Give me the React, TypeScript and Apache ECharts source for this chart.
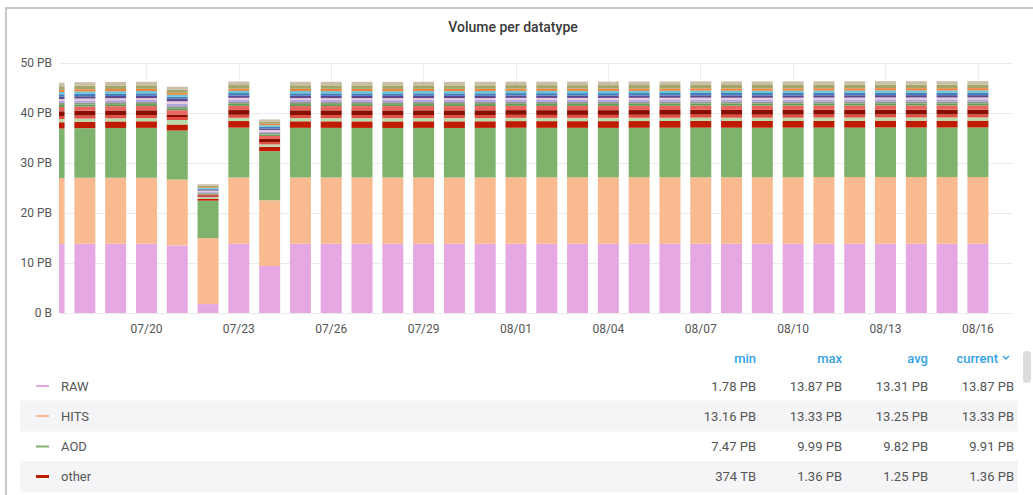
import React, { useEffect, useRef } from 'react';
import * as echarts from 'echarts';

const DATES = [
  '07/17', '07/18', '07/19', '07/20', '07/21', '07/22', '07/23', '07/24', '07/25', '07/26',
  '07/27', '07/28', '07/29', '07/30', '07/31', '08/01', '08/02', '08/03', '08/04', '08/05',
  '08/06', '08/07', '08/08', '08/09', '08/10', '08/11', '08/12', '08/13', '08/14', '08/15', '08/16',
];
const TICK_IDX = [3, 6, 9, 12, 15, 18, 21, 24, 27, 30];
const Y_TICKS = [0, 10, 20, 30, 40, 50];

// values in PB
const RAW = [13.8, 13.87, 13.87, 13.87, 13.5, 1.78, 13.87, 9.4, 13.87, 13.87, 13.87, 13.87, 13.87, 13.87, 13.87, 13.87, 13.87, 13.87, 13.87, 13.87, 13.87, 13.87, 13.87, 13.87, 13.87, 13.87, 13.87, 13.87, 13.87, 13.87, 13.87];
const HITS = [13.18, 13.18, 13.19, 13.19, 13.2, 13.22, 13.21, 13.16, 13.22, 13.23, 13.23, 13.24, 13.24, 13.25, 13.25, 13.26, 13.26, 13.27, 13.27, 13.28, 13.28, 13.29, 13.29, 13.3, 13.3, 13.31, 13.31, 13.32, 13.32, 13.33, 13.33];
const AOD = [9.9, 9.92, 9.95, 9.97, 9.8, 7.47, 9.99, 9.8, 9.95, 9.93, 9.92, 9.9, 9.91, 9.89, 9.9, 9.92, 9.91, 9.9, 9.89, 9.9, 9.91, 9.92, 9.9, 9.89, 9.9, 9.91, 9.9, 9.92, 9.91, 9.9, 9.91];
const OTHER = [1.25, 1.28, 1.3, 1.31, 1.2, 0.374, 1.32, 0.9, 1.3, 1.3, 1.31, 1.31, 1.32, 1.32, 1.32, 1.33, 1.33, 1.33, 1.34, 1.34, 1.34, 1.35, 1.35, 1.35, 1.35, 1.35, 1.36, 1.36, 1.36, 1.36, 1.36];
const T05 = [0.65, 0.65, 0.65, 0.65, 0.9, 0.3, 0.65, 0.45, 0.65, 0.65, 0.65, 0.65, 0.65, 0.65, 0.65, 0.65, 0.65, 0.65, 0.65, 0.65, 0.65, 0.65, 0.65, 0.65, 0.65, 0.65, 0.65, 0.65, 0.65, 0.65, 0.65];
const T06 = [0.6, 0.6, 0.6, 0.6, 0.6, 0.15, 0.6, 0.45, 0.6, 0.6, 0.6, 0.6, 0.6, 0.6, 0.6, 0.6, 0.6, 0.6, 0.6, 0.6, 0.6, 0.6, 0.6, 0.6, 0.6, 0.6, 0.6, 0.6, 0.6, 0.6, 0.6];
const T07 = [0.95, 0.95, 0.95, 0.95, 0.5, 0.25, 0.95, 0.65, 0.95, 0.95, 0.95, 0.95, 0.95, 0.95, 0.95, 0.95, 0.95, 0.95, 0.95, 0.95, 0.95, 0.95, 0.95, 0.95, 0.95, 0.95, 0.95, 0.95, 0.95, 0.95, 0.95];
const T08 = [0.85, 0.85, 0.85, 0.85, 0.85, 0.2, 0.85, 0.6, 0.85, 0.85, 0.85, 0.85, 0.85, 0.85, 0.85, 0.85, 0.85, 0.85, 0.85, 0.85, 0.85, 0.85, 0.85, 0.85, 0.85, 0.85, 0.85, 0.85, 0.85, 0.85, 0.85];
const T09 = [0.4, 0.4, 0.4, 0.4, 0.4, 0.15, 0.4, 0.3, 0.4, 0.4, 0.4, 0.4, 0.4, 0.4, 0.4, 0.4, 0.4, 0.4, 0.4, 0.4, 0.4, 0.4, 0.4, 0.4, 0.4, 0.4, 0.4, 0.4, 0.4, 0.4, 0.4];
const T10 = [0.4, 0.4, 0.4, 0.4, 0.4, 0.15, 0.4, 0.3, 0.4, 0.4, 0.4, 0.4, 0.4, 0.4, 0.4, 0.4, 0.4, 0.4, 0.4, 0.4, 0.4, 0.4, 0.4, 0.4, 0.4, 0.4, 0.4, 0.4, 0.4, 0.4, 0.4];
const T11 = [0.4, 0.4, 0.4, 0.4, 0.5, 0.25, 0.4, 0.3, 0.4, 0.4, 0.4, 0.4, 0.4, 0.4, 0.4, 0.4, 0.4, 0.4, 0.4, 0.4, 0.4, 0.4, 0.4, 0.4, 0.4, 0.4, 0.4, 0.4, 0.4, 0.4, 0.4];
const T12 = [0.4, 0.4, 0.4, 0.4, 0.5, 0.2, 0.4, 0.3, 0.4, 0.4, 0.4, 0.4, 0.4, 0.4, 0.4, 0.4, 0.4, 0.4, 0.4, 0.4, 0.4, 0.4, 0.4, 0.4, 0.4, 0.4, 0.4, 0.4, 0.4, 0.4, 0.4];
const T13 = [0.45, 0.45, 0.45, 0.45, 0.5, 0.2, 0.45, 0.3, 0.45, 0.45, 0.45, 0.45, 0.45, 0.45, 0.45, 0.45, 0.45, 0.45, 0.45, 0.45, 0.45, 0.45, 0.45, 0.45, 0.45, 0.45, 0.45, 0.45, 0.45, 0.45, 0.45];
const T14 = [0.5, 0.5, 0.5, 0.5, 0.4, 0.15, 0.5, 0.35, 0.5, 0.5, 0.5, 0.5, 0.5, 0.5, 0.5, 0.5, 0.5, 0.5, 0.5, 0.5, 0.5, 0.5, 0.5, 0.5, 0.5, 0.5, 0.5, 0.5, 0.5, 0.5, 0.5];
const T15 = [0.45, 0.45, 0.45, 0.45, 0.4, 0.15, 0.45, 0.3, 0.45, 0.45, 0.45, 0.45, 0.45, 0.45, 0.45, 0.45, 0.45, 0.45, 0.45, 0.45, 0.45, 0.45, 0.45, 0.45, 0.45, 0.45, 0.45, 0.45, 0.45, 0.45, 0.45];
const T16 = [0.45, 0.45, 0.45, 0.45, 0.4, 0.15, 0.45, 0.3, 0.45, 0.45, 0.45, 0.45, 0.45, 0.45, 0.45, 0.45, 0.45, 0.45, 0.45, 0.45, 0.45, 0.45, 0.45, 0.45, 0.45, 0.45, 0.45, 0.45, 0.45, 0.45, 0.45];
const T17 = [0.7, 0.7, 0.7, 0.7, 0.6, 0.3, 0.7, 0.4, 0.7, 0.7, 0.7, 0.7, 0.7, 0.7, 0.7, 0.7, 0.7, 0.7, 0.7, 0.7, 0.7, 0.7, 0.7, 0.7, 0.7, 0.7, 0.7, 0.7, 0.7, 0.7, 0.7];
const T18 = [0.7, 0.7, 0.7, 0.7, 0.6, 0.3, 0.7, 0.45, 0.7, 0.7, 0.7, 0.7, 0.7, 0.7, 0.7, 0.7, 0.7, 0.7, 0.7, 0.7, 0.7, 0.7, 0.7, 0.7, 0.7, 0.7, 0.7, 0.7, 0.7, 0.7, 0.7];

const SERIES_NAMES = ['RAW', 'HITS', 'AOD', 'other', 'type 5', 'type 6', 'type 7', 'type 8', 'type 9', 'type 10', 'type 11', 'type 12', 'type 13', 'type 14', 'type 15', 'type 16', 'type 17', 'type 18'];
const SERIES_DATA = [RAW, HITS, AOD, OTHER, T05, T06, T07, T08, T09, T10, T11, T12, T13, T14, T15, T16, T17, T18];
const SERIES_COLORS = ['#E5A8E2', '#F9BA8F', '#7EB26D', '#BF1B00', '#B7DBAB', '#E24D42', '#890F02', '#EA6460', '#629E51', '#8E9A82', '#AEA2E0', '#EBC6DC', '#5C4A8E', '#447EBC', '#65C5DB', '#EF843C', '#A3A56B', '#C9BEA6'];

// legend table
const LEGEND_NAMES = ['RAW', 'HITS', 'AOD', 'other'];
const LEGEND_COLORS = ['#E5A8E2', '#F9BA8F', '#7EB26D', '#BF1B00'];
const STAT_HEADERS = ['min', 'max', 'avg', 'current'];
const STAT_MIN = ['1.78 PB', '13.16 PB', '7.47 PB', '374 TB'];
const STAT_MAX = ['13.87 PB', '13.33 PB', '9.99 PB', '1.36 PB'];
const STAT_AVG = ['13.31 PB', '13.25 PB', '9.82 PB', '1.25 PB'];
const STAT_CURRENT = ['13.87 PB', '13.33 PB', '9.91 PB', '1.36 PB'];

const GRID_LEFT = 59;
const GRID_TOP = 63;
const GRID_BOTTOM = 182;

export default function App() {
  const ref = useRef<HTMLDivElement>(null);

  useEffect(() => {
    const chart = echarts.init(ref.current!, null, { renderer: 'svg' });
    const font = 'Roboto, "Noto Sans", sans-serif';
    const colX = [756, 842, 928, 1014];
    const rowY = [386, 416, 446.5, 476.5];
    const headerY = 358;
    const stats = [STAT_MIN, STAT_MAX, STAT_AVG, STAT_CURRENT];

    const graphic: any[] = [];
    graphic.push({
      type: 'rect', shape: { x: 6, y: 8, width: 1040, height: 500 },
      style: { fill: 'none', stroke: '#c8c8c8', lineWidth: 2 }, silent: true,
    });
    // white mask: clips the part of the first bar that falls left of the plot area
    graphic.push({
      type: 'rect', z: 5, shape: { x: 30, y: GRID_TOP - 5, width: GRID_LEFT - 30, height: 495 - GRID_BOTTOM - GRID_TOP + 10 },
      style: { fill: '#fff' }, silent: true,
    });
    graphic.push({
      type: 'text', x: 513, y: 27,
      style: { text: 'Volume per datatype', fill: '#3a3a3a', font: `500 14px ${font}`, textAlign: 'center', textVerticalAlign: 'middle' },
    });
    [1, 3].forEach((r) => {
      graphic.push({
        type: 'rect', shape: { x: 20, y: rowY[r] - 15.5, width: 998, height: 31 },
        style: { fill: '#f5f5f7' }, silent: true,
      });
    });
    STAT_HEADERS.forEach((h, i) => {
      const isCur = i === 3;
      graphic.push({
        type: 'text', x: isCur ? 998 : colX[i], y: headerY,
        style: { text: h, fill: '#33a2e5', font: `500 13px ${font}`, textAlign: 'right', textVerticalAlign: 'middle' },
      });
    });
    graphic.push({
      type: 'polyline', shape: { points: [[1003, 356], [1006, 359], [1009, 356]] },
      style: { stroke: '#33a2e5', lineWidth: 1.3, fill: 'none' },
    });
    graphic.push({
      type: 'rect', shape: { x: 1023, y: 351, width: 8, height: 32, r: 4 },
      style: { fill: '#dcdcdc' },
    });
    LEGEND_NAMES.forEach((name, r) => {
      graphic.push({
        type: 'line', shape: { x1: 36, y1: rowY[r], x2: 49, y2: rowY[r] },
        style: { stroke: LEGEND_COLORS[r], lineWidth: r === 3 ? 3 : 2 },
      });
      graphic.push({
        type: 'text', x: 61, y: rowY[r],
        style: { text: name, fill: '#555', font: `13px ${font}`, textAlign: 'left', textVerticalAlign: 'middle' },
      });
      stats.forEach((col, c) => {
        graphic.push({
          type: 'text', x: colX[c], y: rowY[r],
          style: { text: col[r], fill: '#555', font: `13px ${font}`, textAlign: 'right', textVerticalAlign: 'middle' },
        });
      });
    });

    // value first, day index second, so that stacking happens on y
    const series = SERIES_DATA.map((arr, k) => ({
      name: SERIES_NAMES[k],
      type: 'bar',
      stack: 'total',
      barWidth: 21,
      clip: true,
      encode: { x: 1, y: 0 },
      itemStyle: { color: SERIES_COLORS[k] },
      data: arr.map((v, i) => [v, i]),
    }));

    const yBase = {
      type: 'value',
      min: Y_TICKS[0],
      max: Y_TICKS[Y_TICKS.length - 1],
      interval: 10,
      axisLine: { show: false },
      axisTick: { show: false },
    };

    chart.setOption({
      animation: false,
      backgroundColor: '#fff',
      grid: { left: GRID_LEFT, right: 20, top: GRID_TOP, bottom: GRID_BOTTOM, containLabel: false },
      xAxis: {
        type: 'value',
        min: 0.16,
        max: 31.14,
        axisLine: { show: false },
        axisTick: { show: false, customValues: TICK_IDX },
        axisLabel: {
          customValues: TICK_IDX,
          formatter: (v: number) => DATES[Math.round(v)] ?? '',
          color: '#555', fontSize: 12, fontFamily: font, margin: 10,
        },
        splitLine: { show: true, lineStyle: { color: '#ebebeb', width: 1 } },
      },
      yAxis: [
        {
          ...yBase,
          z: 10,
          axisLabel: {
            formatter: (v: number) => (v === 0 ? '0 B' : `${v} PB`),
            color: '#555', fontSize: 12, fontFamily: font, margin: 7,
          },
          splitLine: { show: false },
        },
        {
          ...yBase,
          position: 'left',
          axisLabel: { show: false },
          splitLine: { show: true, lineStyle: { color: '#ebebeb', width: 1 } },
        },
      ],
      series,
      graphic,
    });
    return () => chart.dispose();
  }, []);

  return (
    <div
      ref={ref}
      style={{ position: 'absolute', left: 0, top: 0, width: 1033, height: 495, background: '#fff' }}
    />
  );
}
